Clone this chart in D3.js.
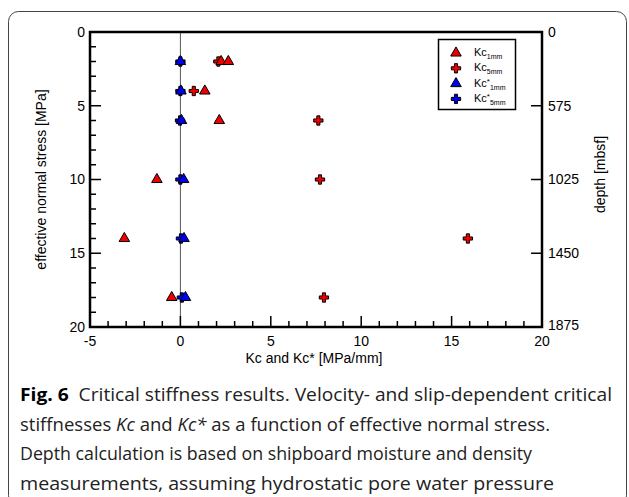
<!DOCTYPE html>
<html>
<head>
<meta charset="utf-8">
<script src="https://cdn.jsdelivr.net/npm/d3@7"></script>
<style>
  body { margin: 0; background: #fff; }
  svg { display: block; }
</style>
</head>
<body>
<div id="chart"></div>
<script>
// Data
const kc1mmStress = [2, 2, 4, 6, 10, 14, 18];
const kc1mmValues = [2.25, 2.65, 1.35, 2.15, -1.3, -3.1, -0.48];
const kc5mmStress = [2, 4, 6, 10, 14, 18];
const kc5mmValues = [2.1, 0.74, 7.63, 7.72, 15.9, 7.94];
const kcStar1mmStress = [2, 4, 6, 10, 14, 18];
const kcStar1mmValues = [0.0, 0.03, 0.06, 0.18, 0.2, 0.28];
const kcStar5mmStress = [2, 4, 6, 10, 14, 18];
const kcStar5mmValues = [0.0, 0.0, -0.02, 0.0, 0.03, 0.08];

const depthLabels = ["0", "575", "1025", "1450", "1875"];
const depthStress = [0, 5, 10, 15, 20];

const legendNames = ["1mm", "5mm", "1mm", "5mm"];

const captionLines = [
    "<tspan font-weight='bold' fill='#000'>Fig. 6</tspan>  Critical stiffness results. Velocity- and slip-dependent critical",
    "stiffnesses <tspan font-style='italic'>Kc</tspan> and <tspan font-style='italic'>Kc*</tspan> as a function of effective normal stress.",
    "Depth calculation is based on shipboard moisture and density",
    "measurements, assuming hydrostatic pore water pressure"
];
const captionWidths = [592, 530, 512, 534];

const W = 629, H = 497;
const svg = d3.select("#chart").append("svg")
    .attr("width", W)
    .attr("height", H);

// outer frame
svg.append("rect")
    .attr("x", 8.5).attr("y", 11.5)
    .attr("width", 618).attr("height", 494)
    .attr("rx", 10)
    .attr("fill", "none")
    .attr("stroke", "#444")
    .attr("stroke-width", 1);

const pLeft = 90, pRight = 542, pTop = 32, pBottom = 327;

const x = d3.scaleLinear().domain([-5, 20]).range([pLeft, pRight]);
const y = d3.scaleLinear().domain([0, 20]).range([pTop, pBottom]);

const g = svg.append("g");

// zero line
g.append("line")
    .attr("x1", x(0)).attr("x2", x(0))
    .attr("y1", pTop).attr("y2", pBottom)
    .attr("stroke", "#555")
    .attr("stroke-width", 1);

// minor ticks
const minorX = d3.range(-5, 21, 1);
const minorY = d3.range(0, 21, 1);

g.append("g").selectAll("line")
    .data(minorX)
    .join("line")
    .attr("x1", d => x(d)).attr("x2", d => x(d))
    .attr("y1", pBottom).attr("y2", d => pBottom - (d % 5 === 0 ? 11 : 6))
    .attr("stroke", "#000")
    .attr("stroke-width", 1.5);

g.append("g").selectAll("line")
    .data(minorY)
    .join("line")
    .attr("y1", d => y(d)).attr("y2", d => y(d))
    .attr("x1", pLeft).attr("x2", d => pLeft + (d % 5 === 0 ? 11 : 6))
    .attr("stroke", "#000")
    .attr("stroke-width", 1.5);

// right depth ticks
g.append("g").selectAll("line")
    .data(depthStress.slice(1, 4))
    .join("line")
    .attr("y1", d => y(d)).attr("y2", d => y(d))
    .attr("x1", pRight).attr("x2", pRight - 11)
    .attr("stroke", "#000")
    .attr("stroke-width", 1.5);

// frame
g.append("rect")
    .attr("x", pLeft).attr("y", pTop)
    .attr("width", pRight - pLeft).attr("height", pBottom - pTop)
    .attr("fill", "none")
    .attr("stroke", "#000")
    .attr("stroke-width", 2.5);

const tickFont = "'Liberation Sans', Arial, sans-serif";

// left tick labels
g.append("g").selectAll("text")
    .data([0, 5, 10, 15, 20])
    .join("text")
    .attr("x", pLeft - 5)
    .attr("y", d => y(d))
    .attr("dy", "0.35em")
    .attr("text-anchor", "end")
    .attr("font-family", tickFont)
    .attr("font-size", 14)
    .text(d => d);

// bottom tick labels
g.append("g").selectAll("text")
    .data([-5, 0, 5, 10, 15, 20])
    .join("text")
    .attr("x", d => x(d))
    .attr("y", pBottom + 19)
    .attr("text-anchor", "middle")
    .attr("font-family", tickFont)
    .attr("font-size", 14)
    .text(d => d);

// right depth labels
g.append("g").selectAll("text")
    .data(depthStress)
    .join("text")
    .attr("x", pRight + 6)
    .attr("y", d => y(d))
    .attr("dy", (d, i) => i === 4 ? "0.2em" : "0.35em")
    .attr("font-family", tickFont)
    .attr("font-size", 14)
    .text((d, i) => depthLabels[i]);

// axis titles
svg.append("text")
    .attr("x", (pLeft + pRight) / 2 - 2)
    .attr("y", 363)
    .attr("text-anchor", "middle")
    .attr("font-family", tickFont)
    .attr("font-size", 14)
    .text("Kc and Kc* [MPa/mm]");

svg.append("text")
    .attr("transform", `translate(46,${(pTop + pBottom) / 2}) rotate(-90)`)
    .attr("text-anchor", "middle")
    .attr("font-family", tickFont)
    .attr("font-size", 14)
    .text("effective normal stress [MPa]");

svg.append("text")
    .attr("transform", `translate(605,${(pTop + pBottom) / 2 - 5}) rotate(-90)`)
    .attr("text-anchor", "middle")
    .attr("font-family", tickFont)
    .attr("font-size", 14)
    .text("depth [mbsf]");

// markers
const tri = d3.symbol().type(d3.symbolTriangle).size(48);
const cross = d3.symbol().type(d3.symbolCross).size(48);

function drawSeries(stress, values, shape, color) {
    g.append("g").selectAll("path")
        .data(values.map((v, i) => ({ v: v, s: stress[i] })))
        .join("path")
        .attr("d", shape)
        .attr("transform", d => `translate(${x(d.v)},${y(d.s)})`)
        .attr("fill", color)
        .attr("stroke", "#000")
        .attr("stroke-width", 1);
}

drawSeries(kc5mmStress, kc5mmValues, cross, "#ee0000");
drawSeries(kc1mmStress, kc1mmValues, tri, "#ee0000");
drawSeries(kcStar5mmStress, kcStar5mmValues, cross, "#0000ee");
drawSeries(kcStar1mmStress, kcStar1mmValues, tri, "#0000ee");

// legend
const legend = svg.append("g");
legend.append("rect")
    .attr("x", 438.5).attr("y", 39.5)
    .attr("width", 77).attr("height", 70)
    .attr("fill", "#fff")
    .attr("stroke", "#000")
    .attr("stroke-width", 1.5);

const legendShapes = [tri, cross, tri, cross];
const legendColors = ["#ee0000", "#ee0000", "#0000ee", "#0000ee"];
const legendStar = [false, false, true, true];

legendNames.forEach((name, i) => {
    const ly = 53 + i * 15.3;
    legend.append("path")
        .attr("d", legendShapes[i])
        .attr("transform", `translate(456,${ly})`)
        .attr("fill", legendColors[i])
        .attr("stroke", "#000")
        .attr("stroke-width", 1);
    const t = legend.append("text")
        .attr("x", 474)
        .attr("y", ly + 3)
        .attr("font-family", tickFont)
        .attr("font-size", 11);
    t.append("tspan").text("Kc");
    if (legendStar[i]) {
        t.append("tspan").attr("dy", -3).attr("font-size", 8).text("*");
        t.append("tspan").attr("dy", 6).attr("font-size", 7).text(name);
    } else {
        t.append("tspan").attr("dy", 3).attr("font-size", 7).text(name);
    }
});

// caption
const cap = svg.append("g");
captionLines.forEach((line, i) => {
    cap.append("text")
        .attr("x", 20)
        .attr("y", 401 + i * 29.5)
        .attr("font-family", "'Open Sans', 'Noto Sans', sans-serif")
        .attr("font-size", 18)
        .attr("fill", "#222")
        .attr("textLength", captionWidths[i])
        .attr("lengthAdjust", "spacingAndGlyphs")
        .attr("xml:space", "preserve")
        .html(line);
});
</script>
</body>
</html>
